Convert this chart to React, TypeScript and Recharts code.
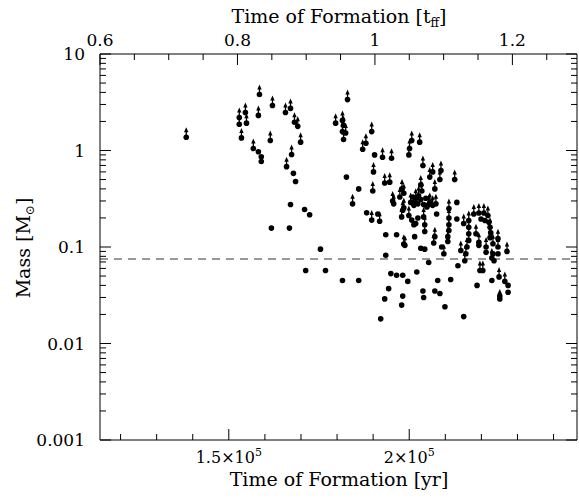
import React from 'react';
import { ScatterChart, Scatter, XAxis, YAxis, ReferenceLine } from 'recharts';

// [formation time (kyr), mass (Msun)] -- sinks still accreting (lower limits, drawn with arrows)
const accreting: [number, number][] = [
  [138.2, 1.37], [158.5, 3.8], [162.1, 2.93], [154.6, 2.48], [158.2, 2.31], [165.7, 2.48],
  [167.1, 2.73], [152.9, 2.2], [152.9, 1.87], [154.9, 1.92], [168.2, 1.96], [169.1, 1.78],
  [153.5, 1.35], [161.5, 1.27], [169.9, 1.22], [156.8, 1.05], [167.4, 0.91], [166.0, 0.68],
  [179.6, 1.92], [181.5, 2.05], [181.8, 1.82], [181.5, 1.57], [182.4, 1.52], [181.8, 1.3],
  [182.9, 3.37], [189.6, 1.57], [188.0, 1.19], [187.1, 1.03], [192.6, 0.85], [195.1, 0.83],
  [200.7, 1.27], [200.1, 1.05], [199.9, 0.9], [202.9, 1.22], [190.1, 0.6], [189.9, 0.38],
  [193.2, 0.46], [194.6, 0.47], [203.8, 0.7], [206.5, 0.6], [205.7, 0.53], [208.8, 0.62],
  [208.5, 0.5], [207.1, 0.4], [203.2, 0.44], [212.6, 0.5], [184.3, 0.28], [197.4, 0.33],
  [198.5, 0.36], [198.0, 0.4], [195.4, 0.3], [195.7, 0.28], [201.8, 0.32], [202.6, 0.34],
  [203.5, 0.38], [200.4, 0.29], [205.7, 0.29], [207.4, 0.28],
  [189.6, 0.19], [191.8, 0.185], [197.9, 0.205], [198.2, 0.24], [198.5, 0.255], [199.9, 0.212],
  [204.0, 0.205], [204.3, 0.17], [204.3, 0.145], [205.4, 0.275], [206.5, 0.27], [198.5, 0.107],
  [198.8, 0.104], [206.8, 0.11], [207.1, 0.128], [209.6, 0.085],
  [211.0, 0.25], [211.0, 0.2], [211.0, 0.17], [211.0, 0.148], [210.7, 0.128], [210.7, 0.114],
  [215.1, 0.175], [216.5, 0.188], [216.5, 0.16], [216.5, 0.137], [216.5, 0.117], [216.0, 0.1],
  [215.7, 0.085], [215.4, 0.072], [214.3, 0.092], [217.9, 0.22], [219.3, 0.225], [220.7, 0.225],
  [221.8, 0.212], [222.4, 0.16], [222.4, 0.125], [218.5, 0.137], [219.3, 0.112], [221.3, 0.1],
  [223.2, 0.108], [224.6, 0.122], [224.6, 0.1], [227.1, 0.09], [219.6, 0.057], [220.4, 0.057],
  [224.9, 0.049], [226.5, 0.044], [225.1, 0.029], [222.9, 0.077],
];

// sinks that have stopped accreting
const finished: [number, number][] = [
  [158.2, 0.97], [159.0, 0.86], [159.0, 0.77], [167.9, 0.58], [168.5, 0.478], [167.1, 0.276],
  [171.0, 0.245], [172.4, 0.216], [161.8, 0.157], [166.8, 0.157], [175.4, 0.095], [171.3, 0.057],
  [176.8, 0.057], [181.5, 0.045], [186.0, 0.045], [190.4, 0.9], [182.6, 0.53], [186.0, 0.4],
  [213.2, 0.29], [201.0, 0.33], [201.6, 0.3], [202.4, 0.28], [203.2, 0.31], [204.0, 0.275],
  [204.6, 0.32], [201.3, 0.27], [204.9, 0.26], [188.2, 0.226], [191.3, 0.22], [200.7, 0.19],
  [201.3, 0.17], [201.8, 0.175], [202.4, 0.2], [207.6, 0.22], [193.5, 0.134], [196.5, 0.134],
  [201.5, 0.128], [203.2, 0.097], [204.3, 0.095], [209.0, 0.1], [213.2, 0.195], [193.5, 0.082],
  [205.4, 0.069], [213.5, 0.064], [194.9, 0.053], [196.5, 0.051], [198.2, 0.051], [199.6, 0.044],
  [202.1, 0.055], [194.3, 0.037], [193.2, 0.029], [198.2, 0.031], [197.9, 0.025], [192.1, 0.018],
  [203.8, 0.035], [204.0, 0.03], [207.1, 0.035], [208.5, 0.033], [207.9, 0.045], [211.5, 0.046],
  [209.9, 0.024], [215.1, 0.019], [218.8, 0.04], [222.9, 0.045], [219.9, 0.195], [221.0, 0.188],
  [222.1, 0.18], [222.6, 0.14], [219.3, 0.104], [221.3, 0.088], [223.2, 0.085], [223.5, 0.072],
  [224.6, 0.085], [227.4, 0.04], [227.4, 0.034], [225.1, 0.031],
];

const massTicks = [
  0.001, 0.002, 0.003, 0.004, 0.005, 0.006, 0.007, 0.008, 0.009,
  0.01, 0.02, 0.03, 0.04, 0.05, 0.06, 0.07, 0.08, 0.09,
  0.1, 0.2, 0.3, 0.4, 0.5, 0.6, 0.7, 0.8, 0.9,
  1, 2, 3, 4, 5, 6, 7, 8, 9, 10,
];
const massLabels = [0.001, 0.01, 0.1, 1, 10];
const kyrTicks = [120, 130, 140, 150, 160, 170, 180, 190, 200, 210, 220, 230, 240];
const kyrLabels: Record<number, string> = { 150: '1.5', 200: '2' };
const tffTicks = [0.6, 0.65, 0.7, 0.75, 0.8, 0.85, 0.9, 0.95, 1, 1.05, 1.1, 1.15, 1.2, 1.25];
const tffLabels = [0.6, 0.8, 1, 1.2];
const hBurningLimit = 0.075;
const freeFallKyr = 190.5; // 1 t_ff in kyr

const FONT = '"DejaVu Serif", serif';
const BIG = 11;
const SMALL = 6;

const toPts = (rows: [number, number][]) => rows.map(([t, m]) => ({ t, m, tff: t / freeFallKyr }));

function Sink({ cx, cy }: any) {
  return <circle cx={cx} cy={cy} r={2.8} fill="#000" />;
}

function AccretingSink({ cx, cy }: any) {
  return (
    <g>
      <circle cx={cx} cy={cy} r={2.8} fill="#000" />
      <line x1={cx} y1={cy - 2} x2={cx} y2={cy - 6} stroke="#000" strokeWidth={1.3} />
      <path d={`M${cx} ${cy - 10} L${cx - 2.2} ${cy - 5} L${cx + 2.2} ${cy - 5} Z`} fill="#000" />
    </g>
  );
}

// the t_ff axis only needs a series attached so it gets drawn
function Nothing() {
  return <g />;
}

function MassTick({ x, y, payload }: any) {
  const big = massLabels.includes(payload.value);
  return (
    <g>
      <line x1={x} y1={y} x2={x + (big ? BIG : SMALL)} y2={y} stroke="#000" />
      {big && (
        <text x={x - 15} y={y} textAnchor="end" dominantBaseline="central" fontFamily={FONT} fontSize={17} fill="#000">
          {String(payload.value)}
        </text>
      )}
    </g>
  );
}

function MassTickRight({ x, y, payload }: any) {
  const big = massLabels.includes(payload.value);
  return <line x1={x} y1={y} x2={x - (big ? BIG : SMALL)} y2={y} stroke="#000" />;
}

function KyrTick({ x, y, payload }: any) {
  const label = kyrLabels[payload.value];
  return (
    <g>
      <line x1={x} y1={y} x2={x} y2={y - (label ? BIG : SMALL)} stroke="#000" />
      {label && (
        <text x={x} y={y + 23} textAnchor="middle" fontFamily={FONT} fontSize={16} fill="#000">
          {label}×10<tspan dy={-7} fontSize={11}>5</tspan>
        </text>
      )}
    </g>
  );
}

function TffTick({ x, y, payload }: any) {
  const big = tffLabels.includes(payload.value);
  return (
    <g>
      <line x1={x} y1={y} x2={x} y2={y + (big ? BIG : SMALL)} stroke="#000" />
      {big && (
        <text x={x} y={y - 8} textAnchor="middle" fontFamily={FONT} fontSize={17} fill="#000">
          {String(payload.value)}
        </text>
      )}
    </g>
  );
}

export default function App() {
  return (
    <div style={{ position: 'absolute', left: 0, top: 0, width: 579, height: 499, background: '#fff' }}>
      <ScatterChart width={579} height={499} margin={{ top: 0, right: 0, bottom: 0, left: 0 }}>
        <XAxis
          xAxisId="kyr" dataKey="t" type="number" orientation="bottom" height={59}
          domain={[114.3, 246.5]} allowDataOverflow ticks={kyrTicks} interval={0}
          tick={<KyrTick />} tickLine={false} tickSize={0} tickMargin={0}
          axisLine={{ stroke: '#000' }}
        />
        <XAxis
          xAxisId="tff" dataKey="tff" type="number" orientation="top" height={54}
          domain={[0.6, 1.294]} allowDataOverflow ticks={tffTicks} interval={0}
          tick={<TffTick />} tickLine={false} tickSize={0} tickMargin={0}
          axisLine={{ stroke: '#000' }}
        />
        <YAxis
          yAxisId="mass" dataKey="m" type="number" scale="log" width={100}
          domain={[0.001, 10]} allowDataOverflow ticks={massTicks} interval={0}
          tick={<MassTick />} tickLine={false} tickSize={0} tickMargin={0}
          axisLine={{ stroke: '#000' }}
        />
        <YAxis
          yAxisId="massR" dataKey="m" type="number" scale="log" orientation="right" width={2}
          domain={[0.001, 10]} allowDataOverflow ticks={massTicks} interval={0}
          tick={<MassTickRight />} tickLine={false} tickSize={0} tickMargin={0}
          axisLine={{ stroke: '#000' }}
        />
        <ReferenceLine
          xAxisId="kyr" yAxisId="mass" y={hBurningLimit}
          stroke="#777" strokeWidth={1.5} strokeDasharray="8 6"
        />
        <Scatter xAxisId="tff" yAxisId="massR" data={toPts(accreting)} shape={<Nothing />} isAnimationActive={false} />
        <Scatter xAxisId="kyr" yAxisId="mass" data={toPts(finished)} shape={<Sink />} isAnimationActive={false} />
        <Scatter xAxisId="kyr" yAxisId="mass" data={toPts(accreting)} shape={<AccretingSink />} isAnimationActive={false} />
      </ScatterChart>
      <svg width={579} height={499} style={{ position: 'absolute', left: 0, top: 0, pointerEvents: 'none' }}>
        <text x={339} y={23} textAnchor="middle" fontFamily={FONT} fontSize={19} fill="#000">
          Time of Formation [t<tspan dy={4} fontSize={12}>ff</tspan><tspan dy={-4}>]</tspan>
        </text>
        <text x={339} y={486} textAnchor="middle" fontFamily={FONT} fontSize={19} fill="#000">
          Time of Formation [yr]
        </text>
        <text transform="translate(30,248) rotate(-90)" textAnchor="middle" fontFamily={FONT} fontSize={19} fill="#000">
          Mass [M<tspan dy={4} fontSize={12}>⊙</tspan><tspan dy={-4}>]</tspan>
        </text>
      </svg>
    </div>
  );
}
